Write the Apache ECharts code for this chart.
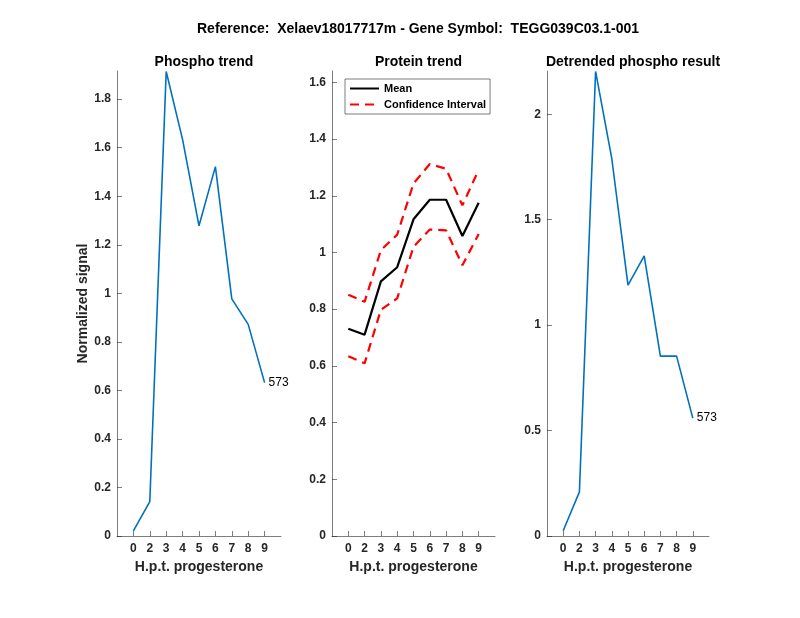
<!DOCTYPE html>
<html>
<head>
<meta charset="utf-8">
<script src="https://cdn.jsdelivr.net/npm/echarts@6/dist/echarts.min.js"></script>
<style>html,body{margin:0;padding:0;background:#fff;}#c{width:800px;height:618px;}</style>
</head>
<body>
<div id="c"></div>
<script>
// ---- data ----
var timeLabels = ['0', '2', '3', '4', '5', '6', '7', '8', '9'];
var phospho = [0.021, 0.142, 1.914, 1.633, 1.278, 1.522, 0.977, 0.872, 0.632];
var proteinMean = [0.731, 0.710, 0.898, 0.948, 1.117, 1.186, 1.186, 1.058, 1.175];
var proteinUpper = [0.851, 0.826, 1.008, 1.063, 1.243, 1.312, 1.295, 1.166, 1.292];
var proteinLower = [0.634, 0.609, 0.798, 0.838, 1.020, 1.081, 1.078, 0.955, 1.065];
var detrended = [0.025, 0.209, 2.203, 1.789, 1.190, 1.328, 0.853, 0.853, 0.559];
var yTicks1 = [0, 0.2, 0.4, 0.6, 0.8, 1, 1.2, 1.4, 1.6, 1.8];
var yTicks2 = [0, 0.2, 0.4, 0.6, 0.8, 1, 1.2, 1.4, 1.6];
var yTicks3 = [0, 0.5, 1, 1.5, 2];
var yMax = [1.916, 1.64, 2.205];
var peptideLabel = '573';
var mainTitle = 'Reference:  Xelaev18017717m - Gene Symbol:  TEGG039C03.1-001';
var subTitles = ['Phospho trend', 'Protein trend', 'Detrended phospho result'];
var xName = 'H.p.t. progesterone';
var yName = 'Normalized signal';

// ---- build ----
var xPos = timeLabels.map(function (_, i) { return i + 1; });
function pts(arr) { return arr.map(function (v, i) { return [xPos[i], v]; }); }
var axisColor = '#262626';
var fontFam = 'Liberation Sans, Arial, Helvetica, sans-serif';

var grids = [
  { left: 117, top: 71, width: 164, height: 465 },
  { left: 332, top: 71, width: 163, height: 465 },
  { left: 547, top: 71, width: 162, height: 465 }
];

function makeX(idx) {
  return {
    type: 'value', gridIndex: idx, min: 0, max: 10,
    name: xName, nameLocation: 'middle', nameGap: 24,
    nameTextStyle: { color: axisColor, fontWeight: 'bold', fontSize: 14, fontFamily: fontFam },
    axisLine: { show: true, lineStyle: { color: axisColor, width: 0.6 } },
    axisTick: { show: true, inside: true, length: 5, customValues: xPos, lineStyle: { color: axisColor, width: 0.6 } },
    axisLabel: {
      customValues: xPos, margin: 7, color: axisColor, fontWeight: 'bold', fontSize: 12, fontFamily: fontFam,
      formatter: function (v) { var i = Math.round(v) - 1; return timeLabels[i] !== undefined ? timeLabels[i] : ''; }
    },
    splitLine: { show: false }
  };
}
function makeY(idx, ticks, max, named) {
  return {
    type: 'value', gridIndex: idx, min: 0, max: max,
    name: named ? yName : '', nameLocation: 'middle', nameGap: 21,
    nameTextStyle: { color: axisColor, fontWeight: 'bold', fontSize: 14, fontFamily: fontFam },
    axisLine: { show: true, lineStyle: { color: axisColor, width: 0.6 } },
    axisTick: { show: true, inside: true, length: 5, customValues: ticks, lineStyle: { color: axisColor, width: 0.6 } },
    axisLabel: { customValues: ticks, margin: 6, color: axisColor, fontWeight: 'bold', fontSize: 12, fontFamily: fontFam,
      formatter: function (v) { return String(Math.round(v * 10) / 10); } },
    splitLine: { show: false }
  };
}
var endLbl = { show: true, formatter: peptideLabel, distance: 4, color: '#000', fontSize: 12, fontFamily: fontFam };

var option = {
  animation: false,
  backgroundColor: '#fff',
  title: [
    { text: mainTitle, left: 413, top: 17, textAlign: 'center',
      textStyle: { fontSize: 14, fontWeight: 'bold', color: '#000', fontFamily: fontFam } },
    { text: subTitles[0], left: 199, top: 50, textAlign: 'center',
      textStyle: { fontSize: 14, fontWeight: 'bold', color: '#000', fontFamily: fontFam } },
    { text: subTitles[1], left: 413.5, top: 50, textAlign: 'center',
      textStyle: { fontSize: 14, fontWeight: 'bold', color: '#000', fontFamily: fontFam } },
    { text: subTitles[2], left: 628, top: 50, textAlign: 'center',
      textStyle: { fontSize: 14, fontWeight: 'bold', color: '#000', fontFamily: fontFam } }
  ],
  legend: {
    data: ['Mean', 'Confidence Interval'],
    orient: 'vertical', left: 345, top: 79,
    itemWidth: 29, itemHeight: 10, itemGap: 5,
    padding: [4, 4, 4, 4],
    backgroundColor: '#fff', borderColor: '#262626', borderWidth: 0.6,
    itemStyle: { opacity: 0 },
    textStyle: { color: '#000', fontWeight: 'bold', fontSize: 11, fontFamily: fontFam }
  },
  grid: grids,
  xAxis: [makeX(0), makeX(1), makeX(2)],
  yAxis: [makeY(0, yTicks1, yMax[0], true), makeY(1, yTicks2, yMax[1], false), makeY(2, yTicks3, yMax[2], false)],
  series: [
    { type: 'line', xAxisIndex: 0, yAxisIndex: 0, data: pts(phospho), symbol: 'none', endLabel: endLbl,
      lineStyle: { color: '#0072BD', width: 1.6 }, itemStyle: { color: '#0072BD' } },
    { name: 'Mean', type: 'line', xAxisIndex: 1, yAxisIndex: 1, data: pts(proteinMean), symbol: 'none',
      lineStyle: { color: '#000', width: 2.2 }, itemStyle: { color: '#000' } },
    { name: 'Confidence Interval', type: 'line', xAxisIndex: 1, yAxisIndex: 1, data: pts(proteinUpper), symbol: 'none',
      lineStyle: { color: '#ff0000', width: 2.2, type: [9, 6] }, itemStyle: { color: '#ff0000' } },
    { name: 'Confidence Interval', type: 'line', xAxisIndex: 1, yAxisIndex: 1, data: pts(proteinLower), symbol: 'none',
      lineStyle: { color: '#ff0000', width: 2.2, type: [9, 6] }, itemStyle: { color: '#ff0000' } },
    { type: 'line', xAxisIndex: 2, yAxisIndex: 2, data: pts(detrended), symbol: 'none', endLabel: endLbl,
      lineStyle: { color: '#0072BD', width: 1.6 }, itemStyle: { color: '#0072BD' } }
  ]
};
var chart = echarts.init(document.getElementById('c'), null, { renderer: 'canvas' });
chart.setOption(option);
</script>
</body>
</html>
